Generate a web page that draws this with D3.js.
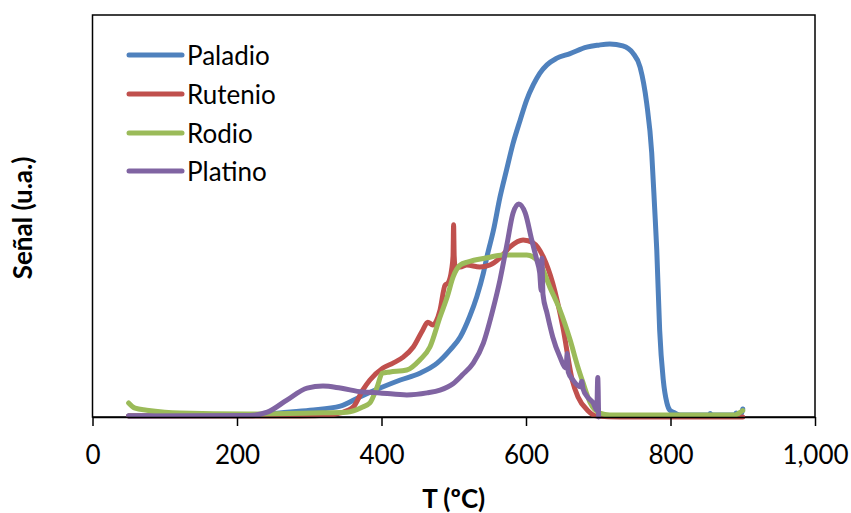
<!DOCTYPE html>
<html>
<head>
<meta charset="utf-8">
<script src="https://cdn.jsdelivr.net/npm/d3@7"></script>
<style>
  html, body { margin: 0; padding: 0; background: #fff; }
  svg { display: block; }
</style>
</head>
<body>
<svg id="chart" width="851" height="513"></svg>
<script>
// Series names and colours
const seriesNames = ["Paladio", "Rutenio", "Rodio", "Platino"];
const seriesColors = ["#4F81BD", "#C0504D", "#9BBB59", "#8064A2"];

// X axis tick values (T, ºC)
const xTicks = [0, 200, 400, 600, 800, 1000];

// Paladio: [T (ºC), señal (u.a.)]
const paladio = [
  [50,0.3],[218,0.3],[259,1.0],[301,1.7],[343,2.7],[370,5.0],[398,7.2],[426,9.2],
  [453,10.9],[477,13.4],[495,16.7],[509,19.9],[522,25.0],[532,30.0],[541,35.8],
  [546,39.9],[555,46.5],[564,54.7],[573,61.4],[582,68.0],[592,73.9],[601,78.9],
  [610,82.6],[619,85.5],[629,87.6],[642,89.2],[661,90.4],[684,92.0],
  [700,92.5],[716,92.8],[734,92.3],[748,90.5],[758,87.0],[767,78.1],
  [774,65.7],[778,52.2],[781,41.5],[785,21.6],[790,9.2],[795,3.5],[799,1.7],
  [806,1.0],[813,0.5],[853,0.5],[855,0.9],[857,0.5],[889,0.5],[891,1.0],[893,0.6],
  [898,0.8],[900,2.0]
];

// Rutenio
const rutenio = [
  [50,0.25],[287,0.25],[329,0.5],[343,1.0],[361,2.5],[374,6.7],[384,9.2],[402,12.2],
  [416,13.4],[430,14.9],[444,17.4],[457,21.6],[464,23.6],[471,22.9],[481,26.6],
  [488,32.8],[492,33.3],[497,36.6],[499,40.0],[499.8,47.8],[500.6,40.0],[502,37.3],
  [509,37.3],[518,37.8],[536,37.3],[550,37.8],[564,39.6],[578,42.3],[596,44.0],
  [610,43.3],[624,39.8],[637,33.3],[651,22.4],[664,9.2],[672,5.0],[685,1.7],
  [698,0.25],[730,0],[900,0]
];

// Rodio
const rodio = [
  [50,3.5],[59,2.2],[75,1.7],[100,1.2],[121,1.0],[214,0.75],[305,1.0],[352,1.2],
  [374,2.5],[384,3.5],[394,7.5],[401,10.9],[412,11.2],[435,11.7],[453,14.2],
  [467,17.4],[481,24.9],[491,29.9],[499,34.8],[509,37.8],[520,38.6],[546,39.6],
  [568,40.3],[601,40.3],[610,39.8],[619,38.3],[633,32.3],[647,26.6],[661,19.2],
  [671,12.9],[679,8.5],[689,3.5],[702,1.0],[716,0.5],[889,0.5],[895,1.0],[900,1.6]
];

// Platino
const platino = [
  [50,0.25],[218,0.4],[242,1.2],[269,4.2],[297,7.2],[319,7.7],[343,7.2],[374,6.2],
  [398,6.0],[435,5.5],[463,6.0],[481,6.7],[499,8.3],[512,10.5],[527,13.4],[541,18.4],
  [554,26.6],[564,34.1],[574,43.3],[582,50.7],[590,53.0],[599,50.7],[608,44.0],
  [615,39.0],[619,35.8],[621,31.5],[622,39.5],[623.5,30.5],[629,25.9],[637,19.9],
  [647,14.9],[655.5,12.2],[657,15.8],[658.5,11.2],[665,9.2],[675,7.5],[677,8.9],
  [679,7.0],[685,5.0],[693,3.5],[698,1.7],[699.3,9.8],[700.5,0]
];

const seriesData = [paladio, rutenio, rodio, platino];

const svg = d3.select("#chart");
const margin = { left: 92.5, right: 815, top: 15, bottom: 417 };

const x = d3.scaleLinear().domain([0, 1000]).range([margin.left, margin.right]);
const y = d3.scaleLinear().domain([0, 100]).range([margin.bottom, margin.top]);

const font = "Lato, 'Open Sans', sans-serif";

// Plot frame
svg.append("rect")
  .attr("x", margin.left).attr("y", margin.top)
  .attr("width", margin.right - margin.left)
  .attr("height", margin.bottom - margin.top)
  .attr("fill", "none").attr("stroke", "#000").attr("stroke-width", 1.5);

// Series lines
const line = d3.line()
  .x(d => x(d[0]))
  .y(d => y(d[1]))
  .curve(d3.curveMonotoneX);

seriesData.forEach((data, i) => {
  svg.append("path")
    .datum(data)
    .attr("fill", "none")
    .attr("stroke", seriesColors[i])
    .attr("stroke-width", 5)
    .attr("stroke-linejoin", "round")
    .attr("stroke-linecap", "round")
    .attr("d", line);
});

// X axis
const xAxis = d3.axisBottom(x)
  .tickValues(xTicks)
  .tickSize(9)
  .tickSizeOuter(0)
  .tickPadding(20)
  .tickFormat(d3.format(","));

const gx = svg.append("g")
  .attr("transform", `translate(0,${margin.bottom})`)
  .call(xAxis);
gx.select(".domain").attr("stroke", "#000").attr("stroke-width", 1.5);
gx.selectAll(".tick line").attr("stroke", "#000").attr("stroke-width", 1.5);
gx.selectAll(".tick text")
  .attr("fill", "#000")
  .style("font-family", font)
  .style("font-size", "26px");

// Axis titles
svg.append("text")
  .attr("x", (margin.left + margin.right) / 2)
  .attr("y", 508)
  .attr("text-anchor", "middle")
  .style("font-family", font)
  .style("font-size", "26px")
  .style("font-weight", "bold")
  .text("T (ºC)");

svg.append("text")
  .attr("transform", "translate(32,218) rotate(-90)")
  .attr("text-anchor", "middle")
  .style("font-family", font)
  .style("font-size", "26px")
  .style("font-weight", "bold")
  .text("Señal (u.a.)");

// Legend
const legendY = [55, 94, 133, 171];
const legend = svg.append("g");
seriesNames.forEach((name, i) => {
  legend.append("line")
    .attr("x1", 129).attr("x2", 182)
    .attr("y1", legendY[i]).attr("y2", legendY[i])
    .attr("stroke", seriesColors[i])
    .attr("stroke-width", 5)
    .attr("stroke-linecap", "round");
  legend.append("text")
    .attr("x", 187)
    .attr("y", legendY[i] + 9.5)
    .style("font-family", font)
    .style("font-size", "26px")
    .text(name);
});
</script>
</body>
</html>
